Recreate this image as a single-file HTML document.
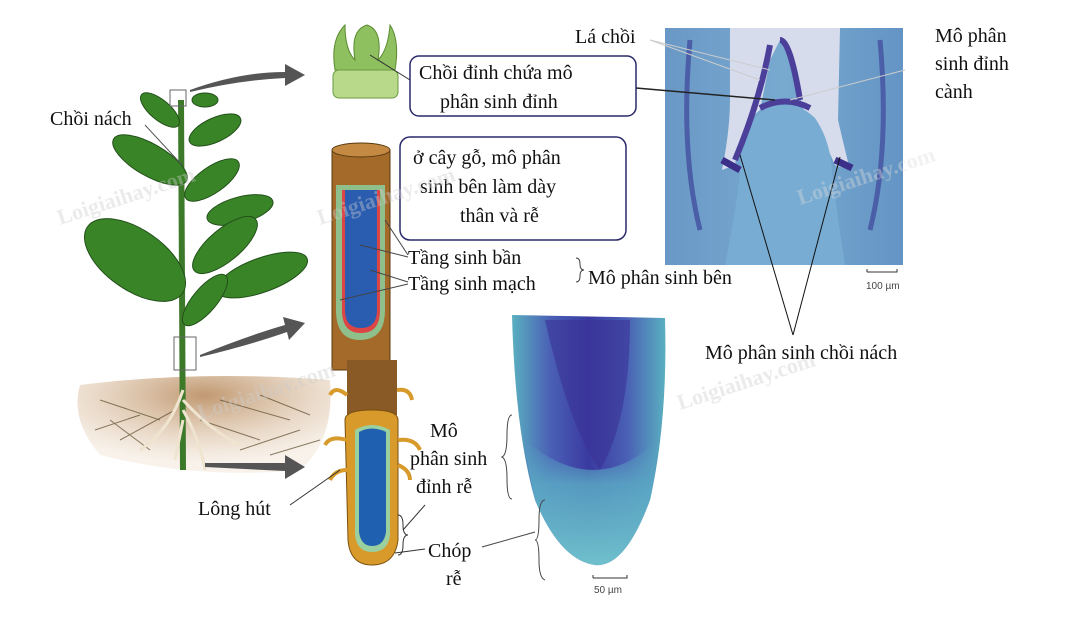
<!DOCTYPE html>
<html><head><meta charset="utf-8"><style>
html,body{margin:0;padding:0;background:#fff}
svg{display:block}
text{font-family:"Liberation Serif","DejaVu Serif",serif;fill:#111}
</style></head><body>
<svg width="1067" height="625" viewBox="0 0 1067 625" xmlns="http://www.w3.org/2000/svg">
<defs>
<linearGradient id="mg" x1="0" x2="1"><stop offset="0" stop-color="#6a98c6"/><stop offset=".5" stop-color="#78aad0"/><stop offset="1" stop-color="#6494c4"/></linearGradient>
<linearGradient id="rt" x1="0" x2="1"><stop offset="0" stop-color="#5ab0c0"/><stop offset=".25" stop-color="#4a60b5"/><stop offset=".5" stop-color="#3a3aa0"/><stop offset=".75" stop-color="#4a60b5"/><stop offset="1" stop-color="#5ab0c0"/></linearGradient>
<linearGradient id="tip" x1="0" y1="0" x2="0" y2="1"><stop offset="0" stop-color="#5aa8c4" stop-opacity="0"/><stop offset=".35" stop-color="#5aa8c4" stop-opacity=".85"/><stop offset="1" stop-color="#6fc0cc"/></linearGradient>
<radialGradient id="soil" cx=".5" cy=".2" r=".7"><stop offset="0" stop-color="#c09870"/><stop offset="1" stop-color="#e8d3bb" stop-opacity=".3"/></radialGradient>
</defs>

<!-- shoot micrograph -->
<rect x="665" y="28" width="238" height="237" fill="url(#mg)"/>
<path d="M730 28 L840 28 L838 120 Q845 150 850 170 L835 165 Q820 130 805 115 L790 60 L780 40 L770 60 L760 110 Q740 125 735 165 L722 170 Q730 130 730 100 Z" fill="#d6dceb"/>
<path d="M755 118 Q785 90 815 118 Q830 140 832 170 Q835 200 845 265 L725 265 Q738 200 740 170 Q742 135 755 118Z" fill="#78acd2"/>
<path d="M735 160 Q760 100 770 45 M800 100 Q790 40 780 40 M760 108 Q785 95 810 108" fill="none" stroke="#4b3f9a" stroke-width="6"/>
<path d="M722 160 L740 170 M835 160 L852 168" stroke="#3c2f8a" stroke-width="7"/>
<path d="M690 40 Q680 150 700 230 M880 40 Q890 150 870 230" stroke="#4b5fa8" stroke-width="5" fill="none"/>
<!-- root micrograph -->
<path d="M512 315 L665 318 Q668 420 650 500 Q625 568 595 565 Q560 560 535 500 Q515 430 512 315Z" fill="url(#rt)"/>
<path d="M545 320 L630 320 Q630 420 600 470 Q570 430 545 320Z" fill="#3a3296" opacity=".6"/>
<path d="M525 440 Q595 500 658 440 Q655 480 650 500 Q625 568 595 565 Q560 560 535 500 Q528 470 525 440Z" fill="url(#tip)"/>
<!-- scale bars -->
<path d="M867 272 v-3 M867 272 h30 v-3" stroke="#333" fill="none"/>
<text x="866" y="289" style="font-family:'Liberation Sans',sans-serif;font-size:10px;fill:#444">100 µm</text>
<path d="M593 578 v-3 M593 578 h34 v-3" stroke="#333" fill="none"/>
<text x="594" y="593" style="font-family:'Liberation Sans',sans-serif;font-size:10px;fill:#444">50 µm</text>

<!-- soil -->
<path d="M80 385 Q200 370 330 380 Q335 440 300 470 Q200 480 100 455 Q70 420 80 385Z" fill="url(#soil)"/>
<g stroke="#5b4a2a" stroke-width="1" opacity=".7">
<path d="M100 400 L160 420 M120 440 L175 410 M200 420 L260 440 M220 400 L290 420 M240 450 L300 430 M110 420 L150 450 M260 395 L310 415 M95 430 L140 415 M270 455 L320 440"/>
</g>
<!-- plant -->
<path d="M181 100 L183 470" stroke="#3c7a2a" stroke-width="6"/>
<path d="M183 390 Q170 430 140 450 M183 400 Q210 430 240 445 M183 420 L175 460 M183 410 Q200 440 205 470" stroke="#eee4cf" stroke-width="3" fill="none"/>
<g fill="#3a8428" stroke="#22501a">
<ellipse cx="150" cy="160" rx="42" ry="16" transform="rotate(30 150 160)"/>
<ellipse cx="215" cy="130" rx="28" ry="12" transform="rotate(-25 215 130)"/>
<ellipse cx="212" cy="180" rx="32" ry="13" transform="rotate(-35 212 180)"/>
<ellipse cx="240" cy="210" rx="34" ry="13" transform="rotate(-15 240 210)"/>
<ellipse cx="135" cy="260" rx="58" ry="30" transform="rotate(35 135 260)"/>
<ellipse cx="225" cy="245" rx="40" ry="16" transform="rotate(-40 225 245)"/>
<ellipse cx="262" cy="275" rx="48" ry="17" transform="rotate(-20 262 275)"/>
<ellipse cx="205" cy="300" rx="32" ry="12" transform="rotate(-50 205 300)"/>
<ellipse cx="160" cy="110" rx="24" ry="10" transform="rotate(40 160 110)"/>
<ellipse cx="205" cy="100" rx="13" ry="7"/>
</g>
<rect x="170" y="90" width="16" height="16" fill="none" stroke="#666"/>
<rect x="174" y="337" width="22" height="33" fill="none" stroke="#666"/>
<!-- arrows -->
<g fill="#555">
<path d="M190 90 Q240 72 285 72 L285 64 L305 75 L285 86 L285 78 Q240 80 190 92Z"/>
<path d="M200 355 Q250 335 285 325 L283 317 L305 323 L289 340 L287 332 Q250 345 200 357Z"/>
<path d="M205 463 L285 463 L285 455 L305 467 L285 479 L285 471 L205 467Z"/>
</g>
<!-- bud -->
<path d="M335 70 Q330 40 345 25 Q345 50 355 60 Q350 30 367 25 Q383 30 378 60 Q388 50 390 25 Q400 40 395 70Z" fill="#8fc060" stroke="#5a8a30"/>
<rect x="333" y="70" width="65" height="28" rx="6" fill="#b9d98a" stroke="#6a9a40"/>
<line x1="370" y1="55" x2="410" y2="80" stroke="#333"/>
<!-- stem cylinder -->
<rect x="332" y="150" width="58" height="220" fill="#a36a2a" stroke="#5a3a10"/>
<ellipse cx="361" cy="150" rx="29" ry="7" fill="#c48a44" stroke="#5a3a10"/>
<path d="M336 185 L385 185 L385 310 Q385 340 360 340 Q336 340 336 310Z" fill="#8fbf8a"/>
<path d="M342 190 L380 190 L380 310 Q380 333 361 333 Q342 333 342 310Z" fill="#d44"/>
<path d="M345 190 L377 190 L377 310 Q377 328 361 328 Q345 328 345 310Z" fill="#2a5db0"/>
<line x1="385" y1="220" x2="408" y2="255" stroke="#444"/>
<line x1="360" y1="245" x2="408" y2="257" stroke="#444"/>
<line x1="370" y1="270" x2="408" y2="282" stroke="#444"/>
<line x1="340" y1="300" x2="408" y2="284" stroke="#444"/>
<!-- root drawing -->
<rect x="347" y="360" width="50" height="55" fill="#8a5a26"/>
<path d="M345 420 Q345 410 372 410 Q398 410 398 420 L398 540 Q395 565 372 565 Q350 565 348 540Z" fill="#d89a2a" stroke="#7a5010"/>
<path d="M355 430 Q372 420 390 430 L390 535 Q388 552 372 552 Q357 552 355 535Z" fill="#9ad0a0"/>
<path d="M359 432 Q372 425 386 432 L386 532 Q384 546 372 546 Q361 546 359 532Z" fill="#2060b0"/>
<g stroke="#d89a2a" stroke-width="4" fill="none"><path d="M347 395 Q335 385 330 395 M397 390 Q410 388 412 400 M347 440 Q330 435 325 445 M398 440 Q415 438 420 450 M347 470 Q335 470 330 480 M398 465 Q410 470 410 480"/></g>
<line x1="340" y1="470" x2="290" y2="505" stroke="#333"/>
<line x1="395" y1="553" x2="425" y2="549" stroke="#333"/>
<line x1="403" y1="530" x2="425" y2="505" stroke="#333"/>
<path d="M398 515 q5 0 5 10 q0 10 5 10 q-5 0 -5 10 q0 10 -5 10" fill="none" stroke="#333"/>

<!-- brackets -->
<path d="M512 415 q-5 0 -5 20 q0 20 -5 22 q5 2 5 22 q0 20 5 20" fill="none" stroke="#444"/>
<path d="M545 500 q-6 0 -6 20 q0 20 -4 20 q4 0 4 20 q0 18 6 20" fill="none" stroke="#444"/>
<line x1="482" y1="547" x2="535" y2="532" stroke="#444"/>
<path d="M576 258 q4 0 4 6 q0 6 4 6 q-4 0 -4 6 q0 6 -4 6" fill="none" stroke="#444"/>

<!-- micrograph pointer lines -->
<line x1="650" y1="40" x2="770" y2="70" stroke="#ccc"/>
<line x1="650" y1="40" x2="760" y2="80" stroke="#ccc"/>
<line x1="636" y1="88" x2="775" y2="100" stroke="#222" stroke-width="1.5"/>
<line x1="905" y1="70" x2="790" y2="100" stroke="#ccc"/>
<line x1="793" y1="335" x2="740" y2="155" stroke="#111"/>
<line x1="793" y1="335" x2="840" y2="157" stroke="#111"/>
<line x1="145" y1="125" x2="182" y2="165" stroke="#555"/>

<!-- boxes -->
<rect x="410" y="56" width="226" height="60" rx="9" fill="#fff" stroke="#2a2a6a" stroke-width="1.5"/>
<rect x="400" y="137" width="226" height="103" rx="10" fill="#fff" stroke="#2a2a6a" stroke-width="1.5"/>

<g font-size="20">
<text x="419" y="79">Chồi đỉnh chứa mô</text>
<text x="440" y="108">phân sinh đỉnh</text>
<text x="413" y="164">ở cây gỗ, mô phân</text>
<text x="420" y="193">sinh bên làm dày</text>
<text x="460" y="222">thân và rễ</text>
<text x="408" y="264">Tầng sinh bần</text>
<text x="408" y="290">Tầng sinh mạch</text>
<text x="588" y="284">Mô phân sinh bên</text>
<text x="575" y="43">Lá chồi</text>
<text x="935" y="42">Mô phân</text>
<text x="935" y="70">sinh đỉnh</text>
<text x="935" y="98">cành</text>
<text x="705" y="359">Mô phân sinh chồi nách</text>
<text x="50" y="125">Chồi nách</text>
<text x="430" y="437">Mô</text>
<text x="410" y="465">phân sinh</text>
<text x="416" y="493">đỉnh rễ</text>
<text x="198" y="515">Lông hút</text>
<text x="428" y="557">Chóp</text>
<text x="446" y="585">rễ</text>
</g>
<g font-size="22" font-weight="bold" opacity=".4" style="font-family:'Liberation Serif',serif">
<text x="60" y="225" transform="rotate(-18 60 225)" style="fill:#ccc">Loigiaihay.com</text>
<text x="320" y="225" transform="rotate(-18 320 225)" style="fill:#ccc">Loigiaihay.com</text>
<text x="800" y="205" transform="rotate(-18 800 205)" style="fill:#ddd">Loigiaihay.com</text>
<text x="200" y="420" transform="rotate(-18 200 420)" style="fill:#ccc">Loigiaihay.com</text>
<text x="680" y="410" transform="rotate(-18 680 410)" style="fill:#ccc">Loigiaihay.com</text>
</g>
</svg>
</body></html>
